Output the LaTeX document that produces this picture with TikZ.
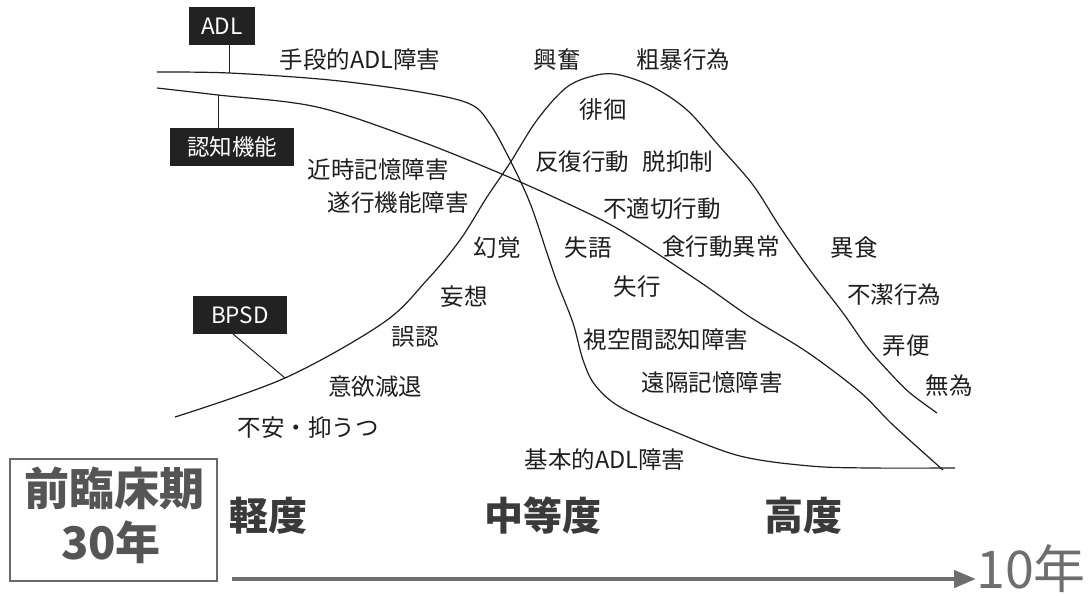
\documentclass[tikz,border=0pt]{standalone}
\usepackage{fontspec}
\setmainfont{Noto Sans CJK JP}
\usetikzlibrary{arrows.meta}
\definecolor{ink}{HTML}{1E1E1E}
\definecolor{tagfill}{HTML}{222222}
\definecolor{stagegray}{HTML}{3A3A3A}
\definecolor{boxgray}{HTML}{555555}
\definecolor{boxline}{HTML}{6A6A6A}
\definecolor{arrowgray}{HTML}{6E6E6E}
\tikzset{
  lbl/.style={inner sep=0pt, anchor=center, text=ink, font=\fontsize{23.5}{27}\selectfont},
  tagbox/.style={fill=tagfill, text=white, inner sep=0pt, font=\fontsize{22.5}{26}\selectfont, minimum height=38pt},
  curve/.style={draw=ink, line width=1.2pt},
  lead/.style={draw=ink, line width=1pt},
  stage/.style={inner sep=0pt, text=stagegray, font=\fontsize{39}{44}\selectfont\bfseries},
}
\begin{document}
\begin{tikzpicture}[x=1pt,y=-1pt]
\useasboundingbox (0,0) rectangle (1090,595);
% curves
\draw[curve] plot[smooth, tension=0.55] coordinates {(157,72) (229,73) (330,80) (420,92) (470,104) (490,124) (510,160) (530,203) (547,253) (557,282) (573,323) (583,360) (595,385) (620,407) (673,431) (740,456) (810,466) (870,468) (955,468)};
\draw[curve] plot[smooth, tension=0.55] coordinates {(157,88) (218,95) (317,107) (417,140) (497,172) (560,200) (620,230) (697,280) (750,317) (807,352) (860,392) (893,425) (943,470)};
\draw[curve] plot[smooth, tension=0.55] coordinates {(175,417) (285,378) (383,323) (427,280) (460,240) (487,197) (510,163) (537,120) (567,87) (597,75) (620,75) (653,87) (687,110) (720,147) (753,185) (780,227) (810,270) (843,313) (867,347) (890,373) (910,393) (937,413)};
\coordinate (adlc) at (229,73);
\coordinate (cogc) at (218,95);
\coordinate (bpsdc) at (285,378);
% tags
\node[tagbox, minimum width=66pt] (adl) at (222,26) {ADL};
\node[tagbox, minimum width=124pt] (cog) at (232,147) {認知機能};
\node[tagbox, minimum width=94pt] (bpsd) at (240,315) {BPSD};
\draw[lead] (adl.south -| adlc) -- (adlc);
\draw[lead] (cogc) -- (cog.north -| cogc);
\draw[lead] (233,334) -- (bpsdc);
% labels
\node[lbl] (l1) at (360,60) {手段的ADL障害};
\node[lbl] (l2) at (557,60) {興奮};
\node[lbl] (l3) at (683,60) {粗暴行為};
\node[lbl] (l4) at (603,110) {徘徊};
\node[lbl] (l5) at (582,162) {反復行動};
\node[lbl] (l6) at (678,162) {脱抑制};
\node[lbl] (l7) at (662,209) {不適切行動};
\node[lbl] (l8) at (721,247) {食行動異常};
\node[lbl] (l9) at (497,248) {幻覚};
\node[lbl] (l10) at (588,248) {失語};
\node[lbl] (l11) at (637,287) {失行};
\node[lbl] (l12) at (464,297) {妄想};
\node[lbl] (l13) at (666,340) {視空間認知障害};
\node[lbl] (l14) at (712,383) {遠隔記憶障害};
\node[lbl] (l15) at (605,460) {基本的ADL障害};
\node[lbl] (l16) at (378,170) {近時記憶障害};
\node[lbl] (l17) at (398,203) {遂行機能障害};
\node[lbl] (l18) at (415,337) {誤認};
\node[lbl] (l19) at (375,387) {意欲減退};
\node[lbl] (l20) at (308,428) {不安・抑うつ};
\node[lbl] (l21) at (854,248) {異食};
\node[lbl] (l22) at (894,295) {不潔行為};
\node[lbl] (l23) at (906,346) {弄便};
\node[lbl] (l24) at (949,386) {無為};
% stages
\node[stage] (s1) at (268,516) {軽度};
\node[stage] (s2) at (543,516) {中等度};
\node[stage] (s3) at (803,516) {高度};
% preclinical box
\node[draw=boxline, line width=2.5pt, minimum width=207pt, minimum height=122pt, inner sep=0pt] (pre) at (113.5,520) {};
\node[inner sep=0pt, text=boxgray, font=\fontsize{45}{50}\selectfont\bfseries] (pre1) at (114,488) {前臨床期};
\node[inner sep=0pt, text=boxgray, font=\fontsize{45}{50}\selectfont\bfseries] (pre2) at (111,542) {30年};
% time arrow
\node[inner sep=0pt, anchor=west, text=arrowgray, font=\fontsize{52}{56}\selectfont] (ten) at (976,569) {10年};
\coordinate (astart) at (232,579);
\draw[draw=arrowgray, line width=4.5pt, -{Triangle[length=22pt,width=17pt]}] (astart) -- (astart -| ten.west);
\end{tikzpicture}
\end{document}
